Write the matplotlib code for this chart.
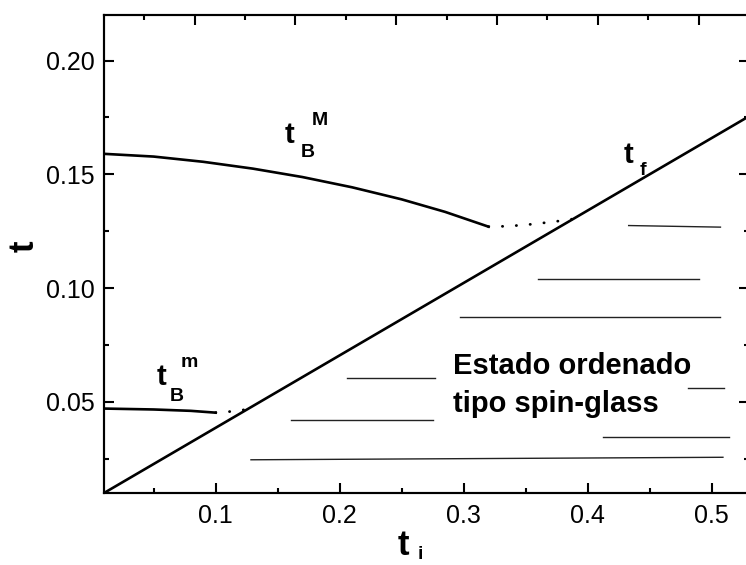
import matplotlib
matplotlib.use('Agg')
import matplotlib.pyplot as plt
from matplotlib.ticker import MultipleLocator

plt.rcParams['font.family'] = ['Liberation Sans', 'DejaVu Sans']

# freezing line t_f (straight)
tf_x = [0.01, 0.53]
tf_y = [0.01, 0.1755]

# upper blocking curve t_B^M, solid part and dotted continuation
tbM_x = [0.01, 0.05, 0.09, 0.13, 0.17, 0.21, 0.25, 0.285, 0.32]
tbM_y = [0.159, 0.1578, 0.1555, 0.1525, 0.1488, 0.1443, 0.139, 0.1335, 0.127]
tbM_dot_x = [0.32, 0.335, 0.35, 0.365, 0.38, 0.391]
tbM_dot_y = [0.127, 0.1272, 0.1278, 0.1287, 0.1297, 0.1306]

# lower blocking curve t_B^m
tbm_x = [0.01, 0.05, 0.08, 0.10]
tbm_y = [0.0471, 0.0467, 0.0461, 0.0453]
tbm_dot_x = [0.10, 0.112, 0.125]
tbm_dot_y = [0.0453, 0.0458, 0.0467]

# hatching of the spin-glass region: (x0, x1, y0, y1)
hatch = [
    (0.433, 0.507, 0.1275, 0.1268),
    (0.360, 0.490, 0.1038, 0.1038),
    (0.297, 0.507, 0.0873, 0.0873),
    (0.206, 0.277, 0.0605, 0.0605),
    (0.481, 0.510, 0.0561, 0.0561),
    (0.161, 0.275, 0.0422, 0.0422),
    (0.412, 0.5135, 0.0345, 0.0345),
    (0.1285, 0.509, 0.0246, 0.0257),
]

fig = plt.figure(figsize=(7.46, 5.65), dpi=100)
ax = fig.add_axes([0.1394, 0.1274, 0.8646, 0.8461])

lw_curve = 1.9
ax.plot(tf_x, tf_y, color='black', lw=lw_curve, solid_capstyle='butt')
ax.plot(tbM_x, tbM_y, color='black', lw=lw_curve)
ax.plot(tbM_dot_x, tbM_dot_y, color='black', lw=2.0, dashes=(0.1, 4.9),
        dash_capstyle='round')
ax.plot(tbm_x, tbm_y, color='black', lw=lw_curve)
ax.plot(tbm_dot_x, tbm_dot_y, color='black', lw=2.0, dashes=(0.1, 4.9),
        dash_capstyle='round')

for x0, x1, y0, y1 in hatch:
    ax.plot([x0, x1], [y0, y1], color='#222222', lw=1.0)

ax.set_xlim(0.01, 0.53)
ax.set_ylim(0.01, 0.22)
ax.xaxis.set_minor_locator(MultipleLocator(0.05))
ax.yaxis.set_minor_locator(MultipleLocator(0.025))
ax.set_xticks([0.1, 0.2, 0.3, 0.4, 0.5])
ax.set_xticklabels(['0.1', '0.2', '0.3', '0.4', '0.5'])
ax.set_yticks([0.05, 0.10, 0.15, 0.20])
ax.set_yticklabels(['0.05', '0.10', '0.15', '0.20'])
ax.tick_params(which='both', direction='in', width=1.5, labelsize=18,
               right=True, top=False)
ax.tick_params(which='major', length=7.2)
ax.tick_params(which='minor', length=3.8)
ax.tick_params(axis='x', pad=8)
ax.tick_params(axis='y', pad=7)
for s in ax.spines.values():
    s.set_linewidth(1.5)

# top axis has its own scale
top = ax.twiny()
top.set_xlim(0.01, 0.65)
top.xaxis.set_major_locator(MultipleLocator(0.1))
top.xaxis.set_minor_locator(MultipleLocator(0.05))
top.tick_params(which='both', direction='in', width=1.5, labeltop=False)
top.tick_params(which='major', length=7.2)
top.tick_params(which='minor', length=3.8)
for s in top.spines.values():
    s.set_linewidth(1.5)


def label(x, y, main, sub=None, sup=None, size=21, sub_off=(11, -10),
          sup_off=(19, 13), small=14):
    ax.text(x, y, main, fontsize=size, fontweight='bold', va='baseline',
            ha='left')
    if sub:
        ax.annotate(sub, (x, y), xytext=sub_off, textcoords='offset points',
                    fontsize=small, fontweight='bold', va='baseline',
                    ha='left')
    if sup:
        ax.annotate(sup, (x, y), xytext=sup_off, textcoords='offset points',
                    fontsize=small, fontweight='bold', va='baseline',
                    ha='left')


label(0.156, 0.1636, 't', 'B', 'M')
label(0.0527, 0.0573, 't', 'B', 'm', sub_off=(9.5, -11), sup_off=(17, 13))
label(0.4286, 0.1548, 't', 'f', sub_off=(12, -8.5))

ax.text(0.2915, 0.0621, 'Estado ordenado', fontsize=21, fontweight='bold',
        va='baseline', ha='left')
ax.text(0.2915, 0.0454, 'tipo spin-glass', fontsize=21, fontweight='bold',
        va='baseline', ha='left')

# axis labels
fig.text(398 / 746, 1 - 555 / 565, 't', fontsize=25, fontweight='bold',
         va='baseline', ha='left')
fig.text(418 / 746, 1 - 559 / 565, 'i', fontsize=14, fontweight='bold',
         va='baseline', ha='left')
fig.text(24 / 746, 1 - 246 / 565, 't', fontsize=25, fontweight='bold',
         rotation=90, va='center', ha='center')

fig.savefig('out.png', dpi=100)
